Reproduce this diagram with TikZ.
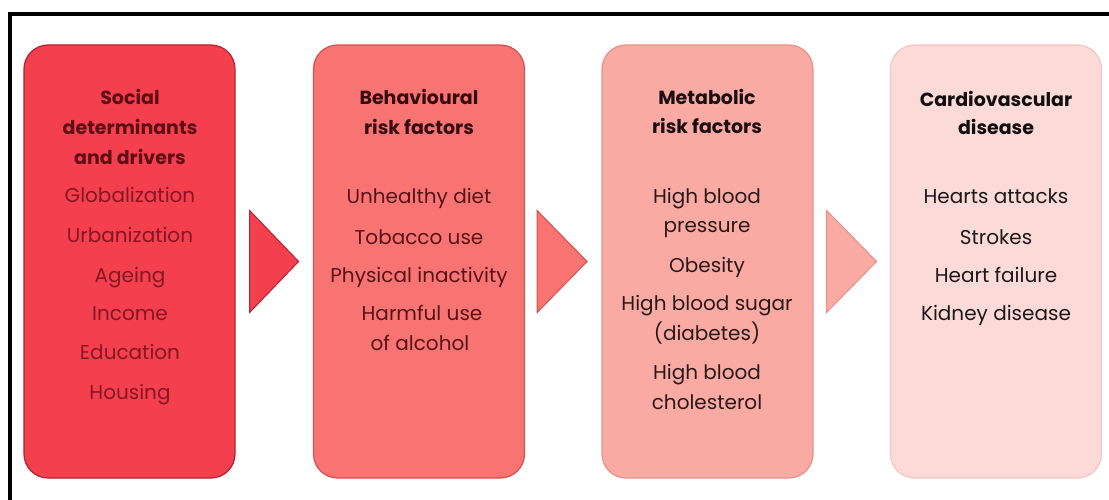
\documentclass[tikz,border=0pt]{standalone}
\usepackage{fontspec}
\setmainfont{Poppins}
\usetikzlibrary{calc}
\definecolor{fillA}{HTML}{F43F4E}
\definecolor{drawA}{HTML}{B3222F}
\definecolor{fillB}{HTML}{F87472}
\definecolor{drawB}{HTML}{D4504F}
\definecolor{fillC}{HTML}{F9AAA3}
\definecolor{drawC}{HTML}{E89088}
\definecolor{fillD}{HTML}{FCDAD7}
\definecolor{drawD}{HTML}{F3C6C2}
\definecolor{titleA}{HTML}{5E0D15}
\definecolor{itemA}{HTML}{851622}
\definecolor{titleB}{HTML}{360B0F}
\definecolor{itemB}{HTML}{561317}
\definecolor{titleC}{HTML}{1A0E10}
\definecolor{itemC}{HTML}{2A1818}
\definecolor{titleD}{HTML}{120E0E}
\definecolor{itemD}{HTML}{1C1818}
\begin{document}
\begin{tikzpicture}[x=1pt,y=-1pt,
  panel/.style={rounded corners=24pt, line width=1.2pt, minimum width=211pt, minimum height=433pt, inner sep=0pt},
  ttl/.style={font=\fontsize{19}{21}\selectfont\bfseries, inner sep=0pt, text height=14pt, text depth=0pt, anchor=center},
  itm/.style={font=\fontsize{20}{22}\selectfont, inner sep=0pt, text height=14pt, text depth=0pt, anchor=center},
  chev/.style={line width=1pt, line join=miter}
]
\useasboundingbox (0,0) rectangle (1109,500);
\fill[white] (0,0) rectangle (1109,500);
\draw[line width=4pt] (10,500) -- (10,14) -- (1109,14);

% panels
\node[panel, fill=fillA, draw=drawA] (b1) at (129.5,261.5) {};
\node[panel, fill=fillB, draw=drawB] (b2) at (419,261.5) {};
\node[panel, fill=fillC, draw=drawC] (b3) at (707.5,261.5) {};
\node[panel, fill=fillD, draw=drawD] (b4) at (996,261.5) {};

% chevrons between panels
\draw[chev, fill=fillA, draw=drawA] ($(b1.east)+(14,-51)$) -- ($(b1.east)+(63,0)$) -- ($(b1.east)+(14,51)$) -- cycle;
\draw[chev, fill=fillB, draw=drawB] ($(b2.east)+(12,-51)$) -- ($(b2.east)+(62,0)$) -- ($(b2.east)+(12,51)$) -- cycle;
\draw[chev, fill=fillC, draw=drawC] ($(b3.east)+(13,-51)$) -- ($(b3.east)+(63,0)$) -- ($(b3.east)+(13,51)$) -- cycle;

% panel 1 texts
\node[ttl, text=titleA] (a1) at (130,98) {Social};
\node[ttl, text=titleA] (a2) at (130,128) {determinants};
\node[ttl, text=titleA] (a3) at (130,158) {and drivers};
\node[itm, text=itemA] (a4) at (130,196) {Globalization};
\node[itm, text=itemA] (a5) at (130,235) {Urbanization};
\node[itm, text=itemA] (a6) at (130,275) {Ageing};
\node[itm, text=itemA] (a7) at (130,313) {Income};
\node[itm, text=itemA] (a8) at (130,352) {Education};
\node[itm, text=itemA] (a9) at (130,392) {Housing};

% panel 2 texts
\node[ttl, text=titleB] (p1) at (419,98) {Behavioural};
\node[ttl, text=titleB] (p2) at (419,128) {risk factors};
\node[itm, text=itemB] (p3) at (419,197) {Unhealthy diet};
\node[itm, text=itemB] (p4) at (419,237) {Tobacco use};
\node[itm, text=itemB] (p5) at (419,275) {Physical inactivity};
\node[itm, text=itemB] (p6) at (422,313) {Harmful use};
\node[itm, text=itemB] (p7) at (420,343) {of alcohol};

% panel 3 texts
\node[ttl, text=titleC] (m1) at (707,98) {Metabolic};
\node[ttl, text=titleC] (m2) at (707,127) {risk factors};
\node[itm, text=itemC] (m3) at (707,197) {High blood};
\node[itm, text=itemC] (m4) at (707,226) {pressure};
\node[itm, text=itemC] (m5) at (707,265) {Obesity};
\node[itm, text=itemC] (m6) at (707,303) {High blood sugar};
\node[itm, text=itemC] (m7) at (707,333) {(diabetes)};
\node[itm, text=itemC] (m8) at (707,372) {High blood};
\node[itm, text=itemC] (m9) at (707,402) {cholesterol};

% panel 4 texts
\node[ttl, text=titleD] (c1) at (996,100) {Cardiovascular};
\node[ttl, text=titleD] (c2) at (996,128) {disease};
\node[itm, text=itemD] (c3) at (996,197) {Hearts attacks};
\node[itm, text=itemD] (c4) at (996,237) {Strokes};
\node[itm, text=itemD] (c5) at (996,275) {Heart failure};
\node[itm, text=itemD] (c6) at (996,313) {Kidney disease};
\end{tikzpicture}
\end{document}
